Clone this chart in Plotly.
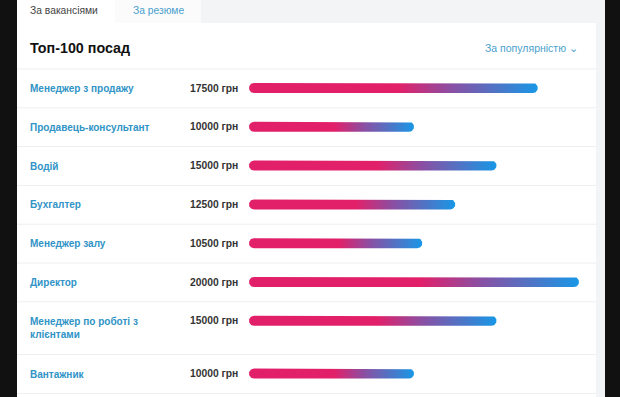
import numpy as np
import plotly.graph_objects as go

# ---- data ----
positions = ["Менеджер з продажу", "Продавець-консультант", "Водій", "Бухгалтер",
             "Менеджер залу", "Директор", "Менеджер по роботі з<br>клієнтами", "Вантажник"]
salaries = [17500, 10000, 15000, 12500, 10500, 20000, 15000, 10000]
salary_labels = [f"{s} грн" for s in salaries]
title_text = "Топ-100 посад"
tab_labels = ["За вакансіями", "За резюме"]
sort_label = "За популярністю ⌄"

# ---- layout constants (pixels) ----
W, H = 620, 397
bar_x0_px, bar_x1_px = 249, 579          # pixel span for 0 .. max salary
k = max(salaries) / (bar_x1_px - bar_x0_px)   # grn per pixel
x_range = [-bar_x0_px * k, (W - bar_x0_px) * k]
card_l, card_r = 17, 596
header_sep = 69
single_h, line_h = 38.8, 14
text_left = 28

PINK = "#e2206a"
PURPLE = "#8a4fa3"
BLUE = "#1897e6"
LINK = "#2f93c6"
FONT = "Liberation Sans, Arial"

def px(x):
    return x / W

def py(y):
    return 1 - y / H

fig = go.Figure()
shapes = []
annotations = []

# page background pieces
shapes.append(dict(type="rect", xref="paper", yref="paper", x0=px(card_l), x1=px(605), y0=0, y1=1,
                   fillcolor="#f3f4f6", line_width=0, layer="below"))
shapes.append(dict(type="rect", xref="paper", yref="paper", x0=px(card_l), x1=px(card_r), y0=0, y1=py(23),
                   fillcolor="#ffffff", line_width=0, layer="below"))
shapes.append(dict(type="rect", xref="paper", yref="paper", x0=px(card_l), x1=px(115), y0=py(23), y1=1,
                   fillcolor="#ffffff", line_width=0, layer="below"))
shapes.append(dict(type="rect", xref="paper", yref="paper", x0=px(115), x1=px(201), y0=py(23), y1=1,
                   fillcolor="#fbfbfc", line_width=0, layer="below"))

# tabs
annotations.append(dict(text=tab_labels[0], x=px(text_left), y=py(10), xref="paper", yref="paper",
                        xanchor="left", yanchor="middle", showarrow=False,
                        font=dict(size=10.3, color="#444444", family=FONT)))
annotations.append(dict(text=tab_labels[1], x=px(131), y=py(10), xref="paper", yref="paper",
                        xanchor="left", yanchor="middle", showarrow=False,
                        font=dict(size=10.3, color="#4a9fcc", family=FONT)))
# title
annotations.append(dict(text=f"<b>{title_text}</b>", x=px(text_left), y=py(48), xref="paper", yref="paper",
                        xanchor="left", yanchor="middle", showarrow=False,
                        font=dict(size=14.3, color="#111111", family=FONT)))
annotations.append(dict(text=sort_label, x=px(580), y=py(48), xref="paper", yref="paper",
                        xanchor="right", yanchor="middle", showarrow=False,
                        font=dict(size=10.5, color="#4a9fcc", family=FONT)))

# header separator
shapes.append(dict(type="line", xref="paper", yref="paper", x0=px(card_l), x1=px(card_r),
                   y0=py(header_sep), y1=py(header_sep), line=dict(color="#eceef0", width=1)))

# rows
top = header_sep
r_px = 5
for name, sal, lab in zip(positions, salaries, salary_labels):
    n_lines = name.count("<br>") + 1
    row_h = single_h + (n_lines - 1) * line_h
    yc = top + 19
    annotations.append(dict(text=f"<b>{name}</b>", x=px(text_left), y=py(yc - 7), xref="paper", yref="paper",
                            xanchor="left", yanchor="top", align="left", showarrow=False,
                            font=dict(size=10, color=LINK, family=FONT)))
    annotations.append(dict(text=f"<b>{lab}</b>", x=px(240), y=py(yc), xref="paper", yref="paper",
                            xanchor="right", yanchor="middle", showarrow=False,
                            font=dict(size=10.3, color="#333333", family=FONT)))
    # rounded bar from 0 to salary
    x0, x1 = 0.0, float(sal)
    rx = r_px * k
    t1 = np.linspace(-np.pi / 2, np.pi / 2, 20)
    t2 = np.linspace(np.pi / 2, 3 * np.pi / 2, 20)
    xs = np.concatenate([[x0 + rx], x1 - rx + rx * np.cos(t1), [x0 + rx], x0 + rx + rx * np.cos(t2)])
    ys = np.concatenate([[yc - r_px], yc + r_px * np.sin(t1), [yc + r_px], yc + r_px * np.sin(t2)])
    fig.add_trace(go.Scatter(
        x=xs, y=ys, mode="lines", fill="toself", line=dict(width=0, color=PINK),
        fillgradient=dict(type="horizontal", start=x0, stop=x1,
                          colorscale=[[0, PINK], [0.52, PINK], [0.7, PURPLE], [1, BLUE]]),
        hoverinfo="skip", showlegend=False))
    top += row_h
    shapes.append(dict(type="line", xref="paper", yref="paper", x0=px(card_l), x1=px(card_r),
                       y0=py(top), y1=py(top), line=dict(color="#eceef0", width=1)))

fig.update_layout(
    width=W, height=H, margin=dict(l=0, r=0, t=0, b=0),
    paper_bgcolor="#111111", plot_bgcolor="rgba(0,0,0,0)",
    xaxis=dict(range=x_range, visible=False, fixedrange=True),
    yaxis=dict(range=[H, 0], visible=False, fixedrange=True),
    shapes=shapes, annotations=annotations, showlegend=False,
)
fig.write_html("out.html", config={"displayModeBar": False},
               post_script="document.body.style.margin='0';document.body.style.background='#111111';")
